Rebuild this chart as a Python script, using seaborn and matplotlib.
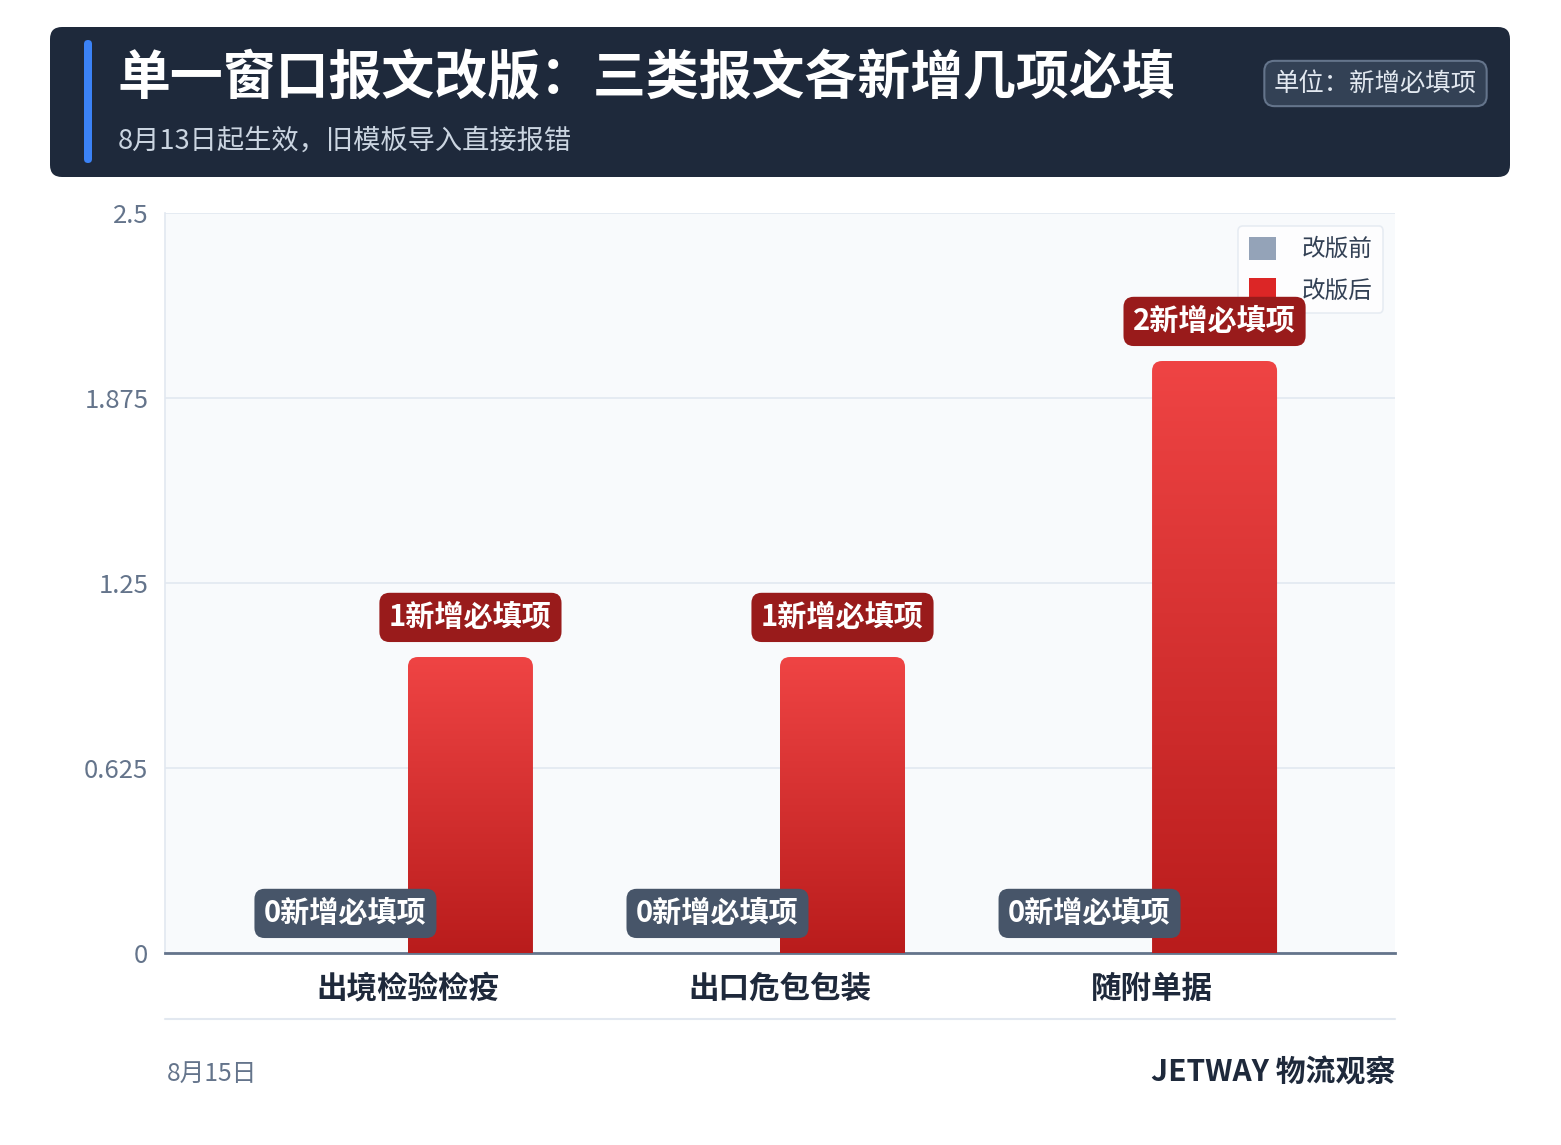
import numpy as np
import pandas as pd
import seaborn as sns
import matplotlib.pyplot as plt
from matplotlib.patches import FancyBboxPatch, Patch
from matplotlib.colors import LinearSegmentedColormap
from matplotlib.transforms import IdentityTransform

categories = ["出境检验检疫", "出口危包包装", "随附单据"]
before_vals = [0, 0, 0]
after_vals = [1, 1, 2]
series_names = ["改版前", "改版后"]
y_ticks = [0, 0.625, 1.25, 1.875, 2.5]
y_tick_labels = ["0", "0.625", "1.25", "1.875", "2.5"]
unit = "新增必填项"

title = "单一窗口报文改版：三类报文各新增几项必填"
subtitle = "8月13日起生效，旧模板导入直接报错"
unit_note = "单位：新增必填项"
footer_left = "8月15日"
footer_right = "JETWAY 物流观察"

W, H = 1561, 1145

sns.set_theme(style="white")
plt.rcParams["font.family"] = ["Noto Sans CJK SC", "DejaVu Sans"]

df = pd.DataFrame({
    "cat": categories * 2,
    "ver": [series_names[0]] * 3 + [series_names[1]] * 3,
    "val": before_vals + after_vals,
})

fig = plt.figure(figsize=(W / 100, H / 100), dpi=100)
fig.patch.set_facecolor("white")

# axes box in pixel coords: left 165, right 1395, top 213, bottom 953
ax = fig.add_axes([165 / W, 1 - 953 / H, 1230 / W, 740 / H])
ax.set_facecolor("#f8fafc")

palette = {"改版前": "#94a3b8", "改版后": "#dc2626"}
sns.barplot(data=df, x="cat", y="val", hue="ver", palette=palette,
            width=0.672, gap=0, legend=False, ax=ax, saturation=1)

ax.set_xlim(-0.653, 2.653)
ax.set_ylim(0, 2.5)
ax.set_yticks(y_ticks)
ax.set_yticklabels(y_tick_labels)
ax.set_xlabel("")
ax.set_ylabel("")
ax.grid(axis="y", color="#e2e8f0", linewidth=1.2)
ax.set_axisbelow(True)
for s in ["top", "right"]:
    ax.spines[s].set_visible(False)
ax.spines["left"].set_color("#e2e8f0")
ax.spines["left"].set_linewidth(1.2)
ax.spines["bottom"].set_color("#64748b")
ax.spines["bottom"].set_linewidth(2)
ax.tick_params(axis="y", colors="#64748b", labelsize=18.5, length=0, pad=12)
ax.tick_params(axis="x", length=0, pad=14)
for lab in ax.get_xticklabels():
    lab.set_fontsize(22)
    lab.set_fontweight("bold")
    lab.set_color("#1e293b")

# gradient red bars with rounded tops
cmap = LinearSegmentedColormap.from_list("redgrad", ["#b91c1c", "#ef4444"])
grad = np.linspace(0, 1, 256).reshape(-1, 1)
aspect = (1230 / 3.306) / (740 / 2.5)
patches = list(ax.patches)
before_patches = patches[:3]
after_patches = patches[3:]
for p in after_patches:
    x0, w, h = p.get_x(), p.get_width(), p.get_height()
    p.set_visible(False)
    clip = FancyBboxPatch((x0, -0.1), w, h + 0.1,
                          boxstyle="round,pad=0,rounding_size=0.027",
                          mutation_aspect=aspect, fc="none", ec="none",
                          transform=ax.transData)
    ax.add_patch(clip)
    im = ax.imshow(grad, extent=[x0, x0 + w, 0, h], origin="lower",
                   cmap=cmap, aspect="auto", zorder=3)
    im.set_clip_path(clip)
ax.set_xlim(-0.653, 2.653)
ax.set_ylim(0, 2.5)

# value labels
for p, v in zip(before_patches, before_vals):
    ax.annotate(f"{v}{unit}", (p.get_x() + p.get_width() / 2, v),
                xytext=(0, 28.5), textcoords="offset points",
                ha="center", va="center", fontsize=21, fontweight="bold",
                color="white", zorder=7,
                bbox=dict(boxstyle="round,pad=0.33,rounding_size=0.35",
                          fc="#475569", ec="none"))
for p, v in zip(after_patches, after_vals):
    ax.annotate(f"{v}{unit}", (p.get_x() + p.get_width() / 2, v),
                xytext=(0, 28.5), textcoords="offset points",
                ha="center", va="center", fontsize=21, fontweight="bold",
                color="white", zorder=7,
                bbox=dict(boxstyle="round,pad=0.33,rounding_size=0.35",
                          fc="#991b1b", ec="none"))

handles = [Patch(fc=palette[n], ec="none") for n in series_names]
leg = ax.legend(handles, series_names, loc="upper right",
                bbox_to_anchor=(0.9905, 0.9825), fontsize=17,
                frameon=True, handlelength=1.15, handleheight=1.15,
                handletextpad=1.1, borderpad=0.45, labelspacing=0.7,
                borderaxespad=0)
leg.set_zorder(4)
leg.get_frame().set_edgecolor("#e2e8f0")
leg.get_frame().set_facecolor("white")
leg.get_frame().set_linewidth(1.2)
for t in leg.get_texts():
    t.set_color("#334155")


def px(x, y):
    return x, H - y


# header band
band = FancyBboxPatch(px(50, 177), 1460, 150,
                      boxstyle="round,pad=0,rounding_size=12",
                      fc="#1e293b", ec="none", transform=IdentityTransform())
fig.patches.append(band)
accent = FancyBboxPatch(px(84, 163), 8, 123,
                        boxstyle="round,pad=0,rounding_size=4",
                        fc="#3b82f6", ec="none", transform=IdentityTransform())
fig.patches.append(accent)

fig.text(117 / W, 1 - 79 / H, title, fontsize=38.1, fontweight="bold",
         color="white", ha="left", va="center")
fig.text(118 / W, 1 - 141 / H, subtitle, fontsize=19.6,
         color="#cbd5e1", ha="left", va="center")
fig.text(1375.5 / W, 1 - 83.5 / H, unit_note, fontsize=18.3, color="#e2e8f0",
         ha="center", va="center",
         bbox=dict(boxstyle="round,pad=0.38,rounding_size=0.4",
                   fc="#334155", ec="#64748b", lw=1.5))

# footer
fig.add_artist(plt.Line2D([165 / W, 1395 / W], [1 - 1019 / H] * 2,
                          color="#e2e8f0", lw=1.5))
fig.text(167 / W, 1 - 1074 / H, footer_left, fontsize=17.8, color="#64748b",
         ha="left", va="center")
fig.text(1395 / W, 1 - 1073 / H, footer_right, fontsize=21.5, fontweight="bold",
         color="#1e293b", ha="right", va="center")

fig.savefig("out.png", dpi=100, facecolor="white")
